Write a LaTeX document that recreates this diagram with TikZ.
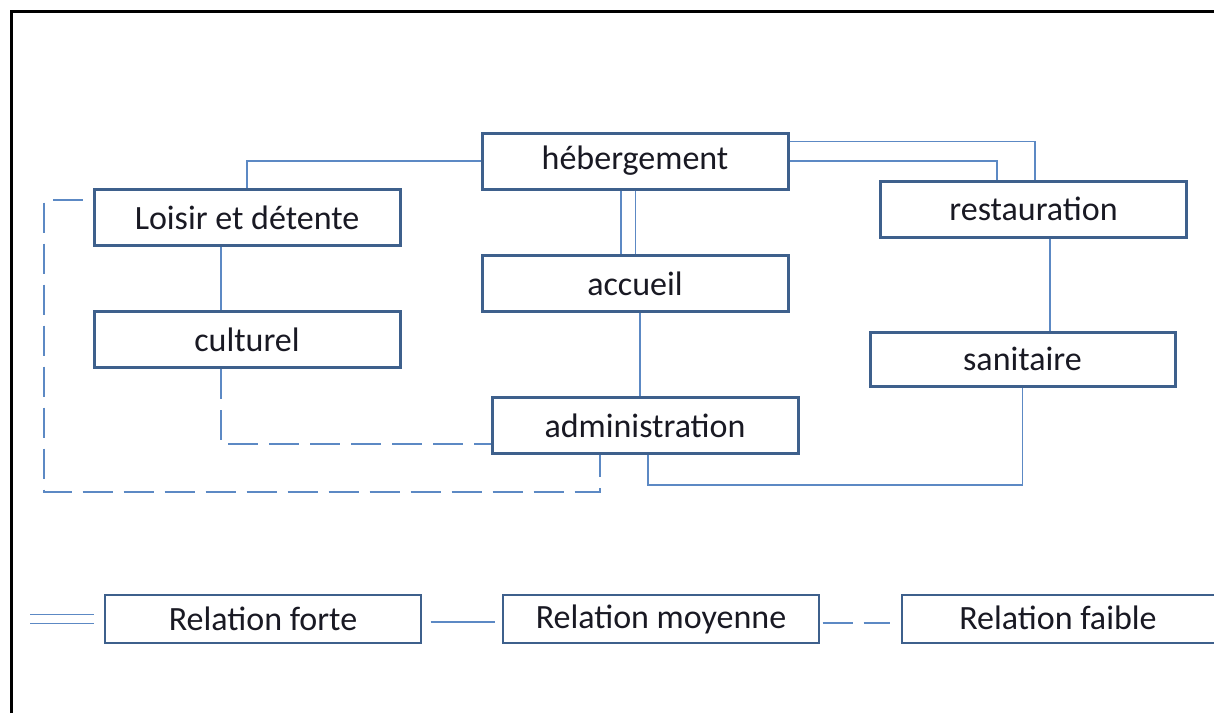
\documentclass[tikz,border=0pt]{standalone}
\usepackage{fontspec}
\setmainfont{Carlito}
\usepackage{tikz}
\usepackage{xcolor}
\definecolor{boxblue}{RGB}{62,96,140}
\definecolor{linkblue}{RGB}{92,137,196}
\definecolor{textdark}{RGB}{25,25,35}
\tikzset{
    main-box/.style = {draw=boxblue, fill=white, line width=3pt, rectangle, minimum width=306pt, minimum height=56pt, inner sep=0pt, text=textdark, font=\fontsize{34}{36}\selectfont},
    legend-box/.style = {draw=boxblue, fill=white, line width=1.3pt, rectangle, minimum width=316pt, minimum height=48pt, inner sep=0pt, text=textdark, font=\fontsize{34}{36}\selectfont},
    link/.style = {draw=linkblue, line width=1.6pt},
    strong-link/.style = {link, double=white, double distance=13pt},
    weak-link/.style = {link, dash pattern=on 30pt off 11pt},
}

\begin{document}
\begin{tikzpicture}[x=1pt, y=-1pt]
\useasboundingbox (0,0) rectangle (1214,713);
\clip (0,0) rectangle (1214,713);
\fill[white] (0,0) rectangle (1214,713);
\draw[line width=3pt] (11,713) -- (11,11) -- (1214,11);

\node[main-box] (heb) at (635,161) {hébergement};
\node[main-box] (loisir) at (247,217.5) {Loisir et détente};
\node[main-box] (rest) at (1033.5,209) {restauration};
\node[main-box] (accueil) at (635,283.5) {accueil};
\node[main-box] (culturel) at (247,339.5) {culturel};
\node[main-box, minimum width=305pt, minimum height=54pt] (sanitaire) at (1022.5,359) {sanitaire};
\node[main-box] (admin) at (645,425.5) {administration};

\draw[link] (heb.west) -| (loisir.north);
\draw[strong-link] ([xshift=-7]heb.south) -- ([xshift=-7]accueil.north);
\draw[link] ([yshift=-10]heb.north east) -| ([xshift=1.5]rest.north);
\draw[link] (heb.east) -| ([xshift=-36.5]rest.north);
\draw[link] ([xshift=-26]loisir.south) -- ([xshift=-26]culturel.north);
\draw[link] ([xshift=5]accueil.south) -- ([xshift=-5]admin.north);
\draw[link] ([xshift=16.5]rest.south) -- ([xshift=27.5]sanitaire.north);
\draw[link] ([xshift=3]admin.south) -- ++(0,30) -| (sanitaire.south);
\draw[weak-link] ([xshift=-26]culturel.south) |- ([yshift=-18.5]admin.west);
\coordinate (loop) at (44,492);
\draw[weak-link, dash phase=-10pt] ([yshift=17.5]loisir.west) -| (loop) -| ([xshift=-45]admin.south);

\node[legend-box] (forte) at (263,619) {Relation forte};
\node[legend-box] (moyenne) at (661,619) {Relation moyenne};
\node[legend-box, minimum width=330pt] (faible) at (1067,619) {};
\node[text=textdark, font=\fontsize{34}{36}\selectfont] at (1058,618) {Relation faible};

\draw[link, double=white, double distance=7.5pt] ([xshift=-74]forte.west) -- ([xshift=-10]forte.west);
\draw[link] ([xshift=9,yshift=-3]forte.east) -- ([xshift=-7,yshift=-3]moyenne.west);
\draw[weak-link] ([xshift=3,yshift=-4]moyenne.east) -- ([xshift=-11,yshift=-4]faible.west);
\end{tikzpicture}
\end{document}
